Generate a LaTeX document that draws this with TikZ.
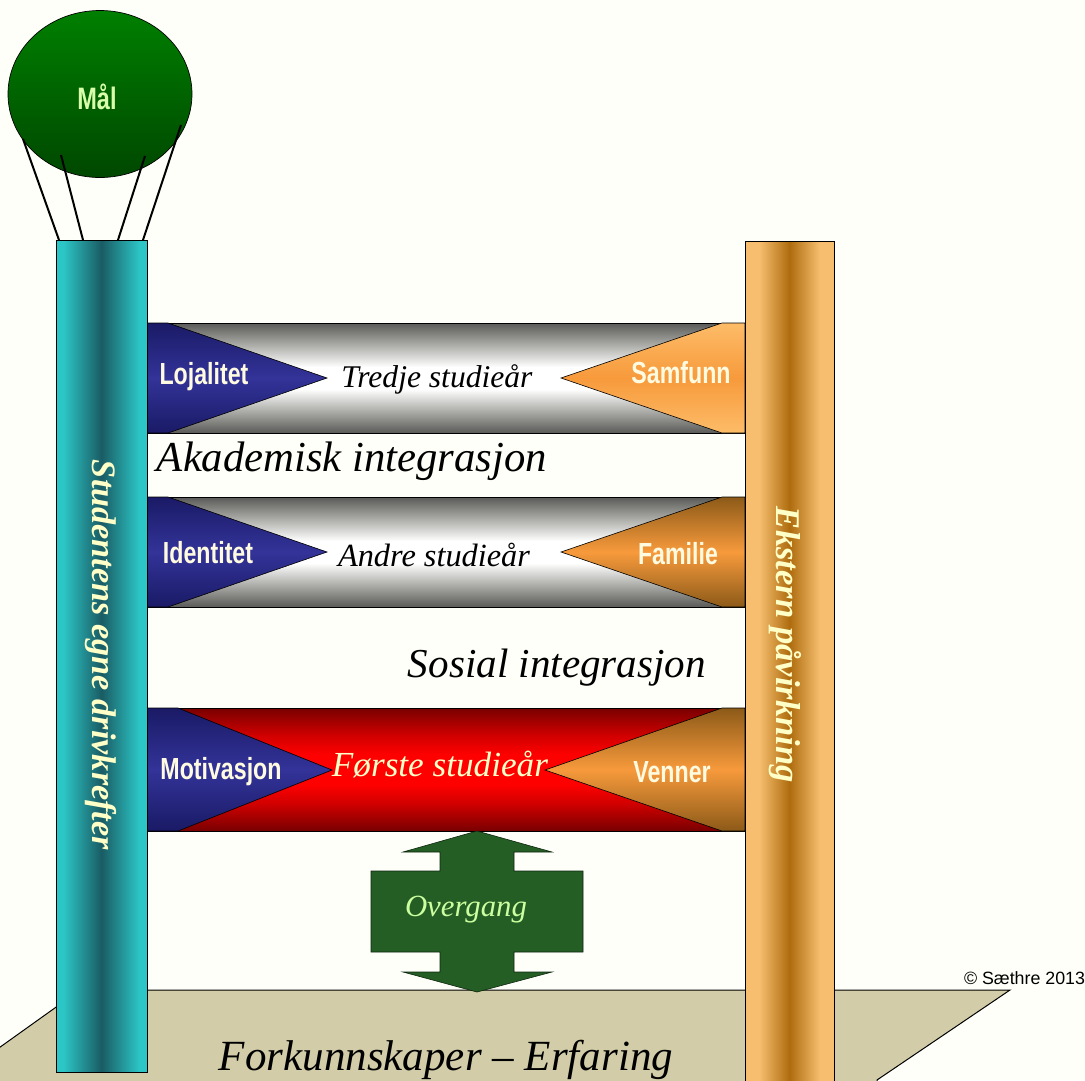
\documentclass[tikz,border=0pt]{standalone}
\usepackage{fontspec}
\usepackage{graphicx}
\usetikzlibrary{shapes.geometric}
\setmainfont{Liberation Serif}
\newfontfamily\labfont[FakeStretch=0.76]{Liberation Sans}
\newfontfamily\plainfont{Liberation Sans}
\newcommand{\fitw}[2]{\resizebox{#1pt}{!}{#2}}
\definecolor{bgc}{HTML}{FFFFFA}
\definecolor{planec}{HTML}{D2CDA8}
\definecolor{tealedge}{HTML}{2CC6C6}
\definecolor{tealmid}{HTML}{1A5C64}
\definecolor{oredge}{HTML}{F6BE6E}
\definecolor{ormid}{HTML}{AE6C0E}
\definecolor{blueedge}{HTML}{1A1A66}
\definecolor{bluemid}{HTML}{333399}
\definecolor{greyedge}{HTML}{5A5A58}
\definecolor{greyb}{HTML}{A4A4A0}
\definecolor{redd}{HTML}{780000}
\definecolor{redm}{HTML}{D00000}
\definecolor{orl}{HTML}{FDBC68}
\definecolor{orm}{HTML}{F79A3C}
\definecolor{orb}{HTML}{8C5A18}
\definecolor{creamc}{HTML}{FFFFC8}
\definecolor{tagc}{HTML}{FFFBE0}
\definecolor{arrowc}{HTML}{245E24}
\pgfdeclareverticalshading{greyshade}{100bp}{color(0bp)=(greyedge);color(25bp)=(greyedge);color(34bp)=(greyb);color(45bp)=(white);color(50bp)=(white);color(55bp)=(white);color(66bp)=(greyb);color(75bp)=(greyedge);color(100bp)=(greyedge)}
\pgfdeclareverticalshading{redshade}{100bp}{color(0bp)=(redd);color(25bp)=(redd);color(36bp)=(redm);color(44bp)=(red);color(56bp)=(red);color(64bp)=(redm);color(75bp)=(redd);color(100bp)=(redd)}
\pgfdeclarehorizontalshading{tealshade}{100bp}{color(0bp)=(tealedge);color(25bp)=(tealedge);color(29bp)=(tealedge);color(50bp)=(tealmid);color(71bp)=(tealedge);color(75bp)=(tealedge);color(100bp)=(tealedge)}
\pgfdeclarehorizontalshading{orangeshade}{100bp}{color(0bp)=(oredge);color(25bp)=(oredge);color(33bp)=(oredge);color(50bp)=(ormid);color(67bp)=(oredge);color(75bp)=(oredge);color(100bp)=(oredge)}
\tikzset{
  x=1pt,y=-1pt,
  colbox/.style={draw=black,line width=.7pt,inner sep=0pt},
  band/.style={draw=black,line width=1pt},
  greyband/.style={band,shading=greyshade},
  redband/.style={band,shading=redshade},
  bluetri/.style={draw=black,line width=.6pt,top color=blueedge,bottom color=blueedge,middle color=bluemid},
  lighttag/.style={draw=black,line width=.6pt,top color=orl,bottom color=orl,middle color=orm},
  darktag/.style={draw=black,line width=.6pt,top color=orb,bottom color=orb,middle color=orm},
  tagtext/.style={inner sep=0pt,text=tagc,font=\labfont\bfseries\fontsize{30.5}{30.5}\selectfont},
  script/.style={inner sep=0pt,font=\itshape},
  rope/.style={draw=black,line width=2pt},
}
\begin{document}
\begin{tikzpicture}
\useasboundingbox (0,0) rectangle (1085,1080);
\clip (0,0) rectangle (1085,1080);
\fill[bgc] (0,0) rectangle (1085,1080);

% ground plane
\draw[fill=planec,line width=1pt,draw=black] (80,990) -- (1010,990) -- (877,1080) -- (877,1100) -- (-60,1100) -- (-46,1080) -- cycle;
\node[script] (ground) at (446,1060) {\fitw{454}{Forkunnskaper -- Erfaring}};

% bands
\path[greyband] (147,323) rectangle (745,433);
\path[greyband] (147,497) rectangle (745,607);
\path[redband] (147,708) rectangle (745,831);

% left tags
\path[bluetri] (147,323) -- (168,323) -- (327,378) -- (168,433) -- (147,433) -- cycle;
\path[bluetri] (147,497) -- (168,497) -- (327,552) -- (168,607) -- (147,607) -- cycle;
\path[bluetri] (147,708) -- (178,708) -- (332,770) -- (178,831) -- (147,831) -- cycle;

% right tags
\path[lighttag] (745,323) -- (722,323) -- (561,378) -- (722,433) -- (745,433) -- cycle;
\path[darktag] (745,497) -- (722,497) -- (561,552) -- (722,607) -- (745,607) -- cycle;
\path[darktag] (745,708) -- (722,708) -- (545,770) -- (722,831) -- (745,831) -- cycle;

% columns
\node[colbox,shading=tealshade,minimum width=91pt,minimum height=832pt] (leftcol) at (101.5,656) {};
\node[colbox,shading=orangeshade,minimum width=89pt,minimum height=860pt] (rightcol) at (789.5,671) {};

% balloon
\node[ellipse,draw=black,line width=.7pt,inner sep=0pt,minimum width=184pt,minimum height=167pt,top color=green!50!black,bottom color=green!28!black] (balloon) at (100,94) {};
\coordinate (ra) at (23,139); \coordinate (rb) at (61,155); \coordinate (rc) at (145,156); \coordinate (rd) at (181,125);
\coordinate (ta) at (59,240); \coordinate (tb) at (83,240); \coordinate (tc) at (118,240); \coordinate (td) at (143,240);
\draw[rope] (ra) -- (ta);
\draw[rope] (rb) -- (tb);
\draw[rope] (rc) -- (tc);
\draw[rope] (rd) -- (td);
\node[inner sep=0pt,text=creamc!85!green,font=\labfont\bfseries\fontsize{31}{31}\selectfont] (goal) at (97,97) {Mål};

% double arrow
\draw[fill=arrowc,draw=black!60!arrowc,line width=.6pt] (477,831) -- (552,852) -- (514,852) -- (514,871) -- (583,871) -- (583,952) -- (514,952) -- (514,972) -- (552,972) -- (477,992) -- (403,972) -- (440,972) -- (440,952) -- (371,952) -- (371,871) -- (440,871) -- (440,852) -- (403,852) -- cycle;

% tags text
\node[tagtext] (loj) at (204,377) {Lojalitet};
\node[tagtext] (ide) at (208,553) {Identitet};
\node[tagtext] (mot) at (221,772) {Motivasjon};
\node[tagtext] (sam) at (681,373) {Samfunn};
\node[tagtext] (fam) at (678,554) {Familie};
\node[tagtext] (ven) at (672,772) {Venner};

% script text
\node[script] (tre) at (437,379) {\fitw{191}{Tredje studieår}};
\node[script] (and) at (434,555) {\fitw{192}{Andre studieår}};
\node[script] (aka) at (352,461) {\fitw{390}{Akademisk integrasjon}};
\node[script] (sos) at (557,668) {\fitw{298}{Sosial integrasjon}};
\node[script,text=creamc] (fors) at (440,764) {\fitw{216}{Første studieår}};
\node[script,text=creamc!80!green] (ove) at (466,910) {\fitw{122}{Overgang}};
\node[script,text=creamc,font=\bfseries\itshape,rotate=-90] (stu) at (101,655) {\fitw{390}{Studentens egne drivkrefter}};
\node[script,text=creamc,font=\bfseries\itshape,rotate=-90] (eks) at (785,645) {\fitw{276}{Ekstern påvirkning}};

\node[inner sep=0pt] (copy) at (1024.5,978) {\fitw{121}{\plainfont © Sæthre 2013}};
\end{tikzpicture}
\end{document}
